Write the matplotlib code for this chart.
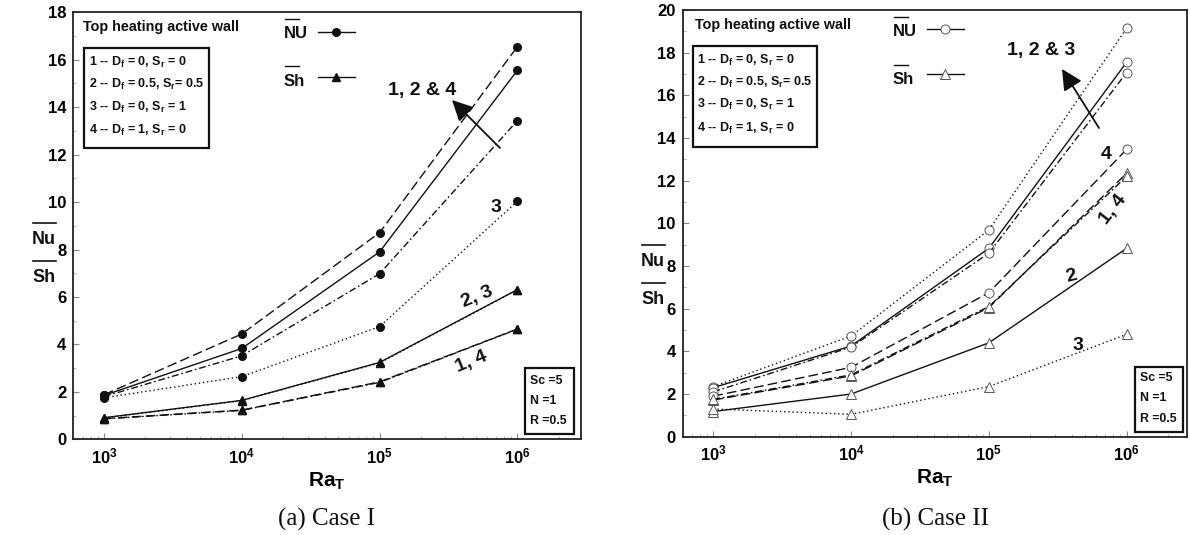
import matplotlib
matplotlib.use('Agg')
import matplotlib.pyplot as plt
from matplotlib.lines import Line2D
from matplotlib.patches import Rectangle, FancyArrowPatch
import matplotlib.ticker as mticker

W, H = 1190, 535
plt.rcParams['font.family'] = ['Liberation Sans', 'DejaVu Sans']
plt.rcParams['mathtext.fontset'] = 'custom'
plt.rcParams['mathtext.rm'] = 'Liberation Sans:bold'
plt.rcParams['mathtext.it'] = 'Liberation Sans:bold'
plt.rcParams['mathtext.bf'] = 'Liberation Sans:bold'
plt.rcParams['mathtext.sf'] = 'Liberation Sans:bold'
plt.rcParams['mathtext.default'] = 'rm'

# ---------------- data ----------------
ra_t = [1e3, 1e4, 1e5, 1e6]
x_tick_labels = [r'$10^{3}$', r'$10^{4}$', r'$10^{5}$', r'$10^{6}$']
y_ticks_case1 = [0, 2, 4, 6, 8, 10, 12, 14, 16, 18]
y_ticks_case2 = [0, 2, 4, 6, 8, 10, 12, 14, 16, 18, 20]

# Case I  (1: dash-dot, 2: solid, 3: dotted, 4: dashed)
c1_nu_1 = [1.80, 3.52, 6.98, 13.43]
c1_nu_2 = [1.85, 3.83, 7.90, 15.55]
c1_nu_3 = [1.75, 2.64, 4.75, 10.03]
c1_nu_4 = [1.88, 4.44, 8.71, 16.55]
c1_sh_1 = [0.86, 1.22, 2.40, 4.64]
c1_sh_2 = [0.91, 1.64, 3.24, 6.31]
c1_sh_3 = [0.90, 1.63, 3.22, 6.30]
c1_sh_4 = [0.87, 1.23, 2.42, 4.65]

# Case II
c2_nu_1 = [2.10, 4.20, 8.60, 17.07]
c2_nu_2 = [2.30, 4.25, 8.83, 17.55]
c2_nu_3 = [2.35, 4.72, 9.69, 19.15]
c2_nu_4 = [1.90, 3.25, 6.75, 13.47]
c2_sh_1 = [1.75, 2.90, 6.10, 12.20]
c2_sh_2 = [1.18, 2.00, 4.40, 8.83]
c2_sh_3 = [1.30, 1.05, 2.35, 4.80]
c2_sh_4 = [1.72, 2.85, 6.05, 12.35]

case_entries = [r'1 -- D$_{f}$ = 0, S$_{r}$ = 0',
                r'2 -- D$_{f}$ = 0.5, S$_{r}$= 0.5',
                r'3 -- D$_{f}$ = 0, S$_{r}$ = 1',
                r'4 -- D$_{f}$ = 1, S$_{r}$ = 0']
param_lines = ['Sc =5', 'N =1', 'R =0.5']
captions = ['(a) Case I', '(b) Case II']

# ---------------- styles ----------------
LS = {1: (0, (5, 2, 1.2, 2)), 2: '-', 3: (0, (1, 2)), 4: (0, (7, 3))}
INK = '#111111'

fig = plt.figure(figsize=(W / 100, H / 100), dpi=100)


def P(x, y):
    return (x / W, 1 - y / H)


def add_axes_px(x0, y0, x1, y1):
    return fig.add_axes([x0 / W, 1 - y1 / H, (x1 - x0) / W, (y1 - y0) / H])


def fig_line(x1, x2, y, lw=1.0, marker=None, mx=None, **kw):
    fig.add_artist(Line2D([x1 / W, x2 / W], [1 - y / H] * 2, transform=fig.transFigure,
                          color=INK, lw=lw))
    if marker is not None:
        fig.add_artist(Line2D([mx / W], [1 - y / H], transform=fig.transFigure,
                              marker=marker, ls='none', **kw))


def fig_text(x, y, s, **kw):
    kw.setdefault('fontweight', 'bold')
    kw.setdefault('color', INK)
    fig.text(x / W, 1 - y / H, s, **kw)


def arrow(x_tail, y_tail, x_head, y_head):
    fig.add_artist(FancyArrowPatch(P(x_tail, y_tail), P(x_head, y_head),
                                   transform=fig.transFigure,
                                   arrowstyle='-|>,head_length=0.9,head_width=0.45',
                                   mutation_scale=14, lw=1.3, color=INK,
                                   shrinkA=0, shrinkB=0))


def style_axes(ax, ylim, yticks, xl):
    ax.set_xscale('log')
    ax.set_xlim(*xl)
    ax.set_ylim(*ylim)
    ax.set_xticks(ra_t, labels=x_tick_labels)
    ax.xaxis.set_minor_locator(mticker.LogLocator(base=10, subs=range(2, 10)))
    ax.xaxis.set_minor_formatter(mticker.NullFormatter())
    ax.set_yticks(yticks)
    ax.yaxis.set_minor_locator(mticker.MultipleLocator(1))
    ax.tick_params(which='major', direction='in', length=4, width=0.8, color='#888888',
                   labelsize=12, pad=5)
    ax.tick_params(which='minor', direction='in', length=2, width=0.6, color='#aaaaaa')
    for lab in ax.get_yticklabels():
        lab.set_fontweight('bold')
    for sp in ax.spines.values():
        sp.set_linewidth(1.3)
        sp.set_color('#222222')
    ax.set_xlabel(r'Ra$_{T}$', fontsize=15, fontweight='bold', labelpad=3)


# ---------------- Case I ----------------
ax1 = add_axes_px(73.3, 12.3, 581, 439.3)
nu_kw1 = dict(color=INK, lw=1.0, marker='o', ms=5.5, mfc=INK, mec=INK)
sh_kw1 = dict(color=INK, lw=1.0, marker='^', ms=6, mfc=INK, mec=INK)
ax1.plot(ra_t, c1_nu_4, ls=LS[4], **nu_kw1)
ax1.plot(ra_t, c1_nu_2, ls=LS[2], **nu_kw1)
ax1.plot(ra_t, c1_nu_1, ls=LS[1], **nu_kw1)
ax1.plot(ra_t, c1_nu_3, ls=LS[3], **nu_kw1)
ax1.plot(ra_t, c1_sh_2, ls=LS[2], **sh_kw1)
ax1.plot(ra_t, c1_sh_3, ls=LS[3], **sh_kw1)
ax1.plot(ra_t, c1_sh_4, ls=LS[4], **sh_kw1)
ax1.plot(ra_t, c1_sh_1, ls=LS[1], **sh_kw1)
style_axes(ax1, (0, 18), y_ticks_case1, (10 ** 2.777, 10 ** 6.462))

# ---------------- Case II ----------------
ax2 = add_axes_px(682.7, 10, 1187, 436.7)
nu_kw2 = dict(color=INK, lw=1.0, marker='o', ms=6.5, mfc='white', mec='#555555', mew=0.7)
sh_kw2 = dict(color=INK, lw=1.0, marker='^', ms=7, mfc='white', mec='#555555', mew=0.7)
ax2.plot(ra_t, c2_nu_3, ls=LS[3], **nu_kw2)
ax2.plot(ra_t, c2_nu_2, ls=LS[2], **nu_kw2)
ax2.plot(ra_t, c2_nu_1, ls=LS[1], **nu_kw2)
ax2.plot(ra_t, c2_nu_4, ls=LS[4], **nu_kw2)
ax2.plot(ra_t, c2_sh_4, ls=LS[4], **sh_kw2)
ax2.plot(ra_t, c2_sh_1, ls=LS[1], **sh_kw2)
ax2.plot(ra_t, c2_sh_2, ls=LS[2], **sh_kw2)
ax2.plot(ra_t, c2_sh_3, ls=LS[3], **sh_kw2)
style_axes(ax2, (0, 20), y_ticks_case2, (10 ** 2.778, 10 ** 6.438))

# ---------------- decorations ----------------
def panel_deco(top_x, top_y, box, entry_x, entry_ys, nu_x, nu_y, sh_y, line_x, nu_line_y,
               sh_line_y, mkw_nu, mkw_sh, ylab_x, ylab_nu_y, ylab_sh_y, pbox, ptext_x, ptext_ys):
    fig_text(top_x, top_y, 'Top heating active wall', fontsize=10.4, va='center', ha='left')
    bx0, by0, bx1, by1 = box
    fig.add_artist(Rectangle(P(bx0, by1), (bx1 - bx0) / W, (by1 - by0) / H,
                             transform=fig.transFigure, fill=False, ec=INK, lw=1.6))
    for s, yy in zip(case_entries, entry_ys):
        fig_text(entry_x, yy, s, fontsize=9, va='center', ha='left')
    # NU / Sh key
    fig_text(nu_x, nu_y, 'NU', fontsize=12, va='center', ha='left')
    fig_line(nu_x + 1, nu_x + 15, nu_y - 15, lw=1.0)
    fig_text(nu_x, sh_y, 'Sh', fontsize=12, va='center', ha='left')
    fig_line(nu_x + 1, nu_x + 15, sh_y - 15, lw=1.0)
    fig_line(line_x[0], line_x[1], nu_line_y, lw=1.0, marker='o', mx=line_x[2], **mkw_nu)
    fig_line(line_x[0], line_x[1], sh_line_y, lw=1.0, marker='^', mx=line_x[2], **mkw_sh)
    # y labels
    fig_text(ylab_x, ylab_nu_y, 'Nu', fontsize=13, va='center', ha='center')
    fig_line(ylab_x - 11, ylab_x + 12, ylab_nu_y - 17, lw=1.2)
    fig_text(ylab_x, ylab_sh_y, 'Sh', fontsize=13, va='center', ha='center')
    fig_line(ylab_x - 11, ylab_x + 12, ylab_sh_y - 17, lw=1.2)
    # parameter box
    px0, py0, px1, py1 = pbox
    fig.add_artist(Rectangle(P(px0, py1), (px1 - px0) / W, (py1 - py0) / H,
                             transform=fig.transFigure, fill=False, ec=INK, lw=1.6))
    for s, yy in zip(param_lines, ptext_ys):
        fig_text(ptext_x, yy, s, fontsize=8.8, va='center', ha='left')


panel_deco(83, 27, (84.3, 47.7, 209.3, 148.3), 89, [62, 84, 107, 130],
           284, 34, 81, (318, 355, 336), 31.7, 77.3,
           dict(ms=5.5, mfc=INK, mec=INK), dict(ms=6, mfc=INK, mec=INK),
           44, 240, 278, (525, 368, 574, 434), 530, [381, 401, 421])

panel_deco(695, 25, (692.7, 45.7, 816.7, 146.7), 697, [60, 82, 104, 128],
           893, 32, 80, (927, 964, 945), 29, 74,
           dict(ms=6.5, mfc='white', mec='#555555', mew=0.7),
           dict(ms=7, mfc='white', mec='#555555', mew=0.7),
           653, 262, 300, (1135, 367, 1183, 432), 1140, [378, 398, 419])

# curve annotations, Case I
fig_text(422, 91, '1, 2 & 4', fontsize=14, ha='center', va='center')
arrow(500, 148, 452, 100)
fig_text(496, 207, '3', fontsize=14, ha='center', va='center')
fig_text(477, 297, '2, 3', fontsize=14, ha='center', va='center', rotation=22)
fig_text(471, 362, '1, 4', fontsize=14, ha='center', va='center', rotation=22)

# curve annotations, Case II
fig_text(1041, 51, '1, 2 & 3', fontsize=14, ha='center', va='center')
arrow(1099, 128, 1062, 69)
fig_text(1106, 155, '4', fontsize=14, ha='center', va='center')
fig_text(1113, 210, '1, 4', fontsize=14, ha='center', va='center', rotation=52)
fig_text(1071, 276, '2', fontsize=14, ha='center', va='center', rotation=15)
fig_text(1078, 345, '3', fontsize=14, ha='center', va='center')

# captions
fig_text(327, 519, captions[0], fontsize=18, ha='center', va='center',
         fontweight='normal', family=['Liberation Serif', 'DejaVu Serif'])
fig_text(935, 519, captions[1], fontsize=18, ha='center', va='center',
         fontweight='normal', family=['Liberation Serif', 'DejaVu Serif'])

fig.savefig('out.png', dpi=100)
